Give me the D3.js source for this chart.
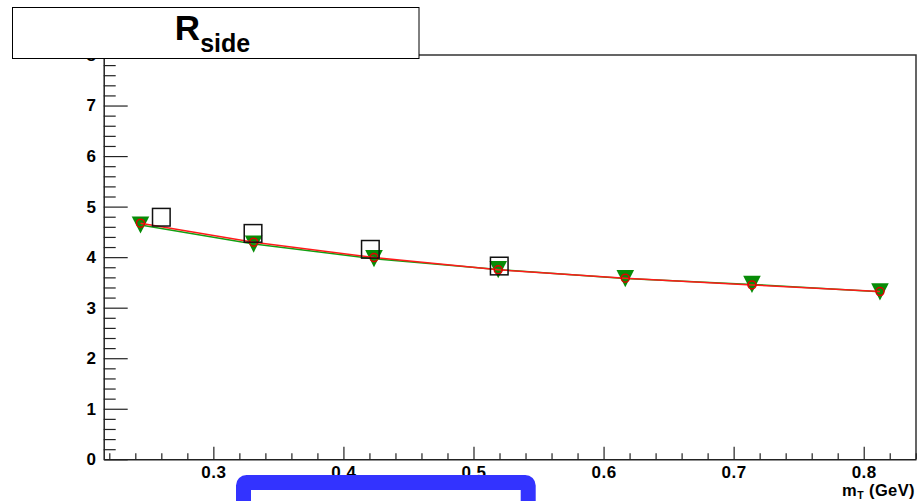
<!DOCTYPE html>
<html>
<head>
<meta charset="utf-8">
<script src="https://cdn.jsdelivr.net/npm/d3@7"></script>
<style>
  html, body { margin: 0; padding: 0; background: #fff; }
  svg { display: block; }
  text { font-family: "Liberation Sans", Arial, Helvetica, sans-serif; font-weight: bold; }
</style>
</head>
<body>
<svg id="chart" width="917" height="501"></svg>
<script>
// ---- data ----
const squareMT = [0.260, 0.3305, 0.4207, 0.5198];
const squareR  = [4.79, 4.47, 4.155, 3.824];

const fitMT    = [0.244, 0.331, 0.4235, 0.519, 0.6167, 0.7141, 0.8125];
const redR     = [4.673, 4.297, 3.992, 3.749, 3.584, 3.451, 3.319];
const greenR   = [4.636, 4.259, 3.970, 3.754, 3.576, 3.461, 3.313];

const xMajorTicks = [0.3, 0.4, 0.5, 0.6, 0.7, 0.8];
const yMajorTicks = [0, 1, 2, 3, 4, 5, 6, 7, 8];
const xDomain = [0.2157, 0.8402];
const yDomain = [0, 8];

// ---- layout ----
const svg = d3.select("#chart");
const L = 103.7, R = 916, T = 55, B = 459.3;

const x = d3.scaleLinear().domain(xDomain).range([L, R]);
const y = d3.scaleLinear().domain(yDomain).range([B, T]);

// minor tick values
const xMinor = d3.range(0.22, 0.8401, 0.02).map(v => +v.toFixed(2))
  .filter(v => !xMajorTicks.some(m => Math.abs(m - v) < 1e-6));
const yMinor = d3.range(0, 8.0001, 0.2).map(v => +v.toFixed(1))
  .filter(v => !yMajorTicks.some(m => Math.abs(m - v) < 1e-6));

// frame (top & right)
svg.append("path")
  .attr("d", `M${L},${T}H${R}V${B}`)
  .attr("fill", "none").attr("stroke", "#333").attr("stroke-width", 1.5);

// x axis
const gx = svg.append("g").attr("transform", `translate(0,${B})`);
gx.call(d3.axisBottom(x).tickValues(xMajorTicks).tickFormat(d3.format(".1f"))
  .tickSizeInner(-12.6).tickSizeOuter(0).tickPadding(6.2));
gx.select(".domain").attr("stroke", "#222").attr("stroke-width", 1.5);
gx.selectAll(".tick line").attr("stroke", "#222").attr("stroke-width", 1.2);
gx.selectAll(".tick text").attr("font-size", 17).attr("fill", "#000")
  .attr("letter-spacing", 0.5)
  .style("font-family", "'Liberation Sans', Arial, sans-serif").style("font-weight", "bold");
const gxm = svg.append("g").attr("transform", `translate(0,${B})`);
gxm.call(d3.axisBottom(x).tickValues(xMinor).tickFormat("").tickSizeInner(-6).tickSizeOuter(0));
gxm.select(".domain").remove();
gxm.selectAll(".tick line").attr("stroke", "#222").attr("stroke-width", 1.2);

// y axis
const gy = svg.append("g").attr("transform", `translate(${L},0)`);
gy.call(d3.axisLeft(y).tickValues(yMajorTicks).tickFormat(d3.format("d"))
  .tickSizeInner(-24).tickSizeOuter(0).tickPadding(7.7));
gy.select(".domain").attr("stroke", "#222").attr("stroke-width", 1.5);
gy.selectAll(".tick line").attr("stroke", "#222").attr("stroke-width", 1.2);
gy.selectAll(".tick text").attr("font-size", 17).attr("fill", "#000")
  .style("font-family", "'Liberation Sans', Arial, sans-serif").style("font-weight", "bold");
const gym = svg.append("g").attr("transform", `translate(${L},0)`);
gym.call(d3.axisLeft(y).tickValues(yMinor).tickFormat("").tickSizeInner(-12).tickSizeOuter(0));
gym.select(".domain").remove();
gym.selectAll(".tick line").attr("stroke", "#222").attr("stroke-width", 1.2);

// axis title
const xt = svg.append("text").attr("x", 915).attr("y", 496.3)
  .attr("text-anchor", "end").attr("font-size", 16.5).attr("fill", "#000")
  .attr("letter-spacing", 0.4);
xt.append("tspan").text("m");
xt.append("tspan").attr("font-size", 10.5).attr("dy", 3).text("T");
xt.append("tspan").attr("dy", -3).text(" (GeV)");

// ---- marks ----
const greenCol = "#078c07";
const line = d3.line().x(d => x(d[0])).y(d => y(d[1]));
const greenData = fitMT.map((m, i) => [m, greenR[i]]);
const redData = fitMT.map((m, i) => [m, redR[i]]);

// triangles (inverted)
const tw = 8.8, th = 8.6;
svg.append("g").selectAll("path").data(greenData).join("path")
  .attr("d", d => {
    const cx = x(d[0]), cy = y(d[1]);
    return `M${cx - tw},${cy - th}L${cx + tw},${cy - th}L${cx},${cy + th}Z`;
  })
  .attr("fill", greenCol);

svg.append("path").datum(greenData).attr("d", line)
  .attr("fill", "none").attr("stroke", "#12a012").attr("stroke-width", 1.5);
svg.append("path").datum(redData).attr("d", line)
  .attr("fill", "none").attr("stroke", "#ff1a1a").attr("stroke-width", 1.5);

// red circles
svg.append("g").selectAll("circle").data(redData).join("circle")
  .attr("cx", d => x(d[0])).attr("cy", d => y(d[1])).attr("r", 4)
  .attr("fill", "none").attr("stroke", "#e00000").attr("stroke-width", 1.5);

// open squares
const sq = 17.6;
svg.append("g").selectAll("rect").data(squareMT.map((m, i) => [m, squareR[i]])).join("rect")
  .attr("x", d => x(d[0]) - sq / 2).attr("y", d => y(d[1]) - sq / 2)
  .attr("width", sq).attr("height", sq)
  .attr("fill", "none").attr("stroke", "#111").attr("stroke-width", 1.5);

// title box
svg.append("rect").attr("x", 12.5).attr("y", 7.5).attr("width", 406.5).attr("height", 51)
  .attr("fill", "#fff").attr("stroke", "#000").attr("stroke-width", 1);
const title = svg.append("text").attr("x", 212.5).attr("y", 40)
  .attr("text-anchor", "middle").attr("font-size", 35).attr("fill", "#000");
title.append("tspan").text("R");
title.append("tspan").attr("font-size", 25).attr("dy", 11.7).text("side");

// clipped blue box at bottom
svg.append("rect").attr("x", 243.5).attr("y", 482.5).attr("width", 284.7).attr("height", 60)
  .attr("rx", 3).attr("fill", "#fff").attr("stroke", "#3333ff").attr("stroke-width", 15);
</script>
</body>
</html>
